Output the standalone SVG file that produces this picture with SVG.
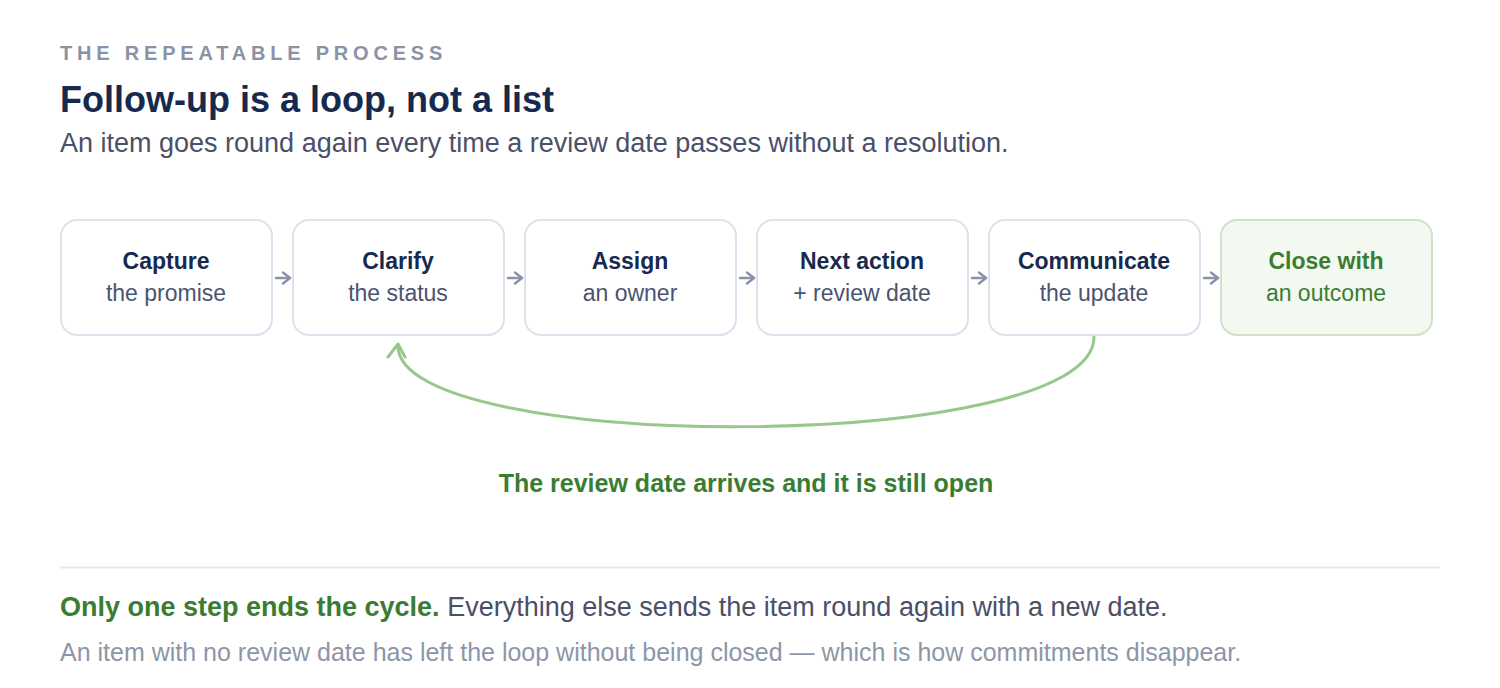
<svg xmlns="http://www.w3.org/2000/svg" width="1500" height="688" viewBox="0 0 1500 688">
<defs>
<style>
text{font-family:"Liberation Sans",Arial,sans-serif;}
.box{fill:#ffffff;stroke:#dce3ee;stroke-width:2;}
.boxg{fill:#f3f9f1;stroke:#cfe3c8;stroke-width:2;}
.t1{font-size:23px;font-weight:bold;fill:#172a4e;text-anchor:middle;}
.t2{font-size:23px;fill:#4a5470;text-anchor:middle;}
.g1{font-size:23px;font-weight:bold;fill:#3a7d32;text-anchor:middle;}
.g2{font-size:23px;fill:#3a7d32;text-anchor:middle;}
.step{fill:none;stroke:#8a92a8;stroke-width:2.4;stroke-linecap:round;stroke-linejoin:round;}
.loop{fill:none;stroke:#98c78b;stroke-width:3;stroke-linecap:round;stroke-linejoin:round;}
</style>
<marker id="ah" viewBox="0 0 14 14" refX="12" refY="7" markerWidth="14" markerHeight="14" markerUnits="userSpaceOnUse" orient="auto">
<path d="M5,1.5 L12,7 L5,12.5" fill="none" stroke="#8a92a8" stroke-width="2.4" stroke-linecap="round" stroke-linejoin="round"/>
</marker>
</defs>
<rect width="1500" height="688" fill="#ffffff"/>
<g id="header">
<text x="60" y="60" font-size="20" font-weight="bold" fill="#8a93a6" letter-spacing="4.8">THE REPEATABLE PROCESS</text>
<text x="60" y="112" font-size="36" font-weight="bold" fill="#172a4e">Follow-up is a loop, not a list</text>
<text x="60" y="152" font-size="27" fill="#4a5068">An item goes round again every time a review date passes without a resolution.</text>
</g>
<g id="capture"><rect class="box" x="61" y="220" width="211" height="115" rx="16"/><text class="t1" x="166" y="269">Capture</text><text class="t2" x="166" y="301">the promise</text></g>
<g id="clarify"><rect class="box" x="293" y="220" width="211" height="115" rx="16"/><text class="t1" x="398" y="269">Clarify</text><text class="t2" x="398" y="301">the status</text></g>
<g id="assign"><rect class="box" x="525" y="220" width="211" height="115" rx="16"/><text class="t1" x="630" y="269">Assign</text><text class="t2" x="630" y="301">an owner</text></g>
<g id="next"><rect class="box" x="757" y="220" width="211" height="115" rx="16"/><text class="t1" x="862" y="269">Next action</text><text class="t2" x="862" y="301">+ review date</text></g>
<g id="communicate"><rect class="box" x="989" y="220" width="211" height="115" rx="16"/><text class="t1" x="1094" y="269">Communicate</text><text class="t2" x="1094" y="301">the update</text></g>
<g id="close"><rect class="boxg" x="1221" y="220" width="211" height="115" rx="16"/><text class="g1" x="1326" y="269">Close with</text><text class="g2" x="1326" y="301">an outcome</text></g>
<g id="connectors">
<path class="step" d="M276,278 H290" marker-end="url(#ah)"/>
<path class="step" d="M508,278 H522" marker-end="url(#ah)"/>
<path class="step" d="M740,278 H754" marker-end="url(#ah)"/>
<path class="step" d="M972,278 H986" marker-end="url(#ah)"/>
<path class="step" d="M1204,278 H1218" marker-end="url(#ah)"/>
<path class="loop" d="M1094,337 C1094,455 398,455 398,346"/>
<path class="loop" d="M388,357 L398,344 L405,357"/>
<text x="746" y="492" font-size="25" font-weight="bold" fill="#3a7d32" text-anchor="middle">The review date arrives and it is still open</text>
</g>
<g id="footer">
<line x1="60" y1="567.5" x2="1440" y2="567.5" stroke="#e6e9f1" stroke-width="2"/>
<text x="60" y="616" font-size="27" fill="#4a5068"><tspan font-weight="bold" fill="#3a7d32">Only one step ends the cycle.</tspan> Everything else sends the item round again with a new date.</text>
<text x="60" y="661" font-size="25" fill="#8d96a8">An item with no review date has left the loop without being closed — which is how commitments disappear.</text>
</g>
</svg>
